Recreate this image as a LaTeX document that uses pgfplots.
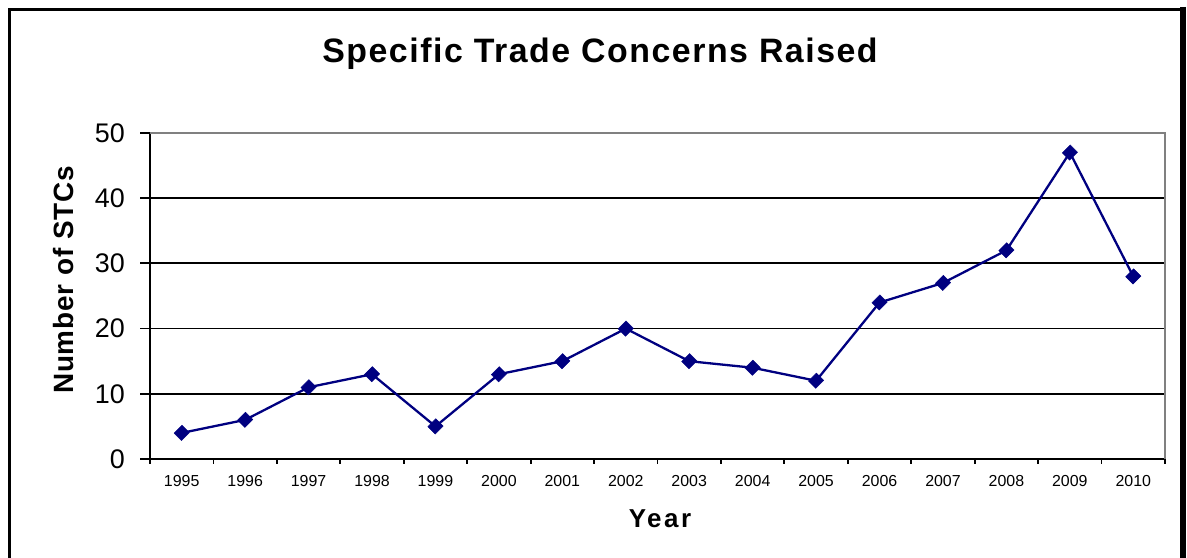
\documentclass[border=0pt]{standalone}
\usepackage{fontspec}
\setmainfont{Liberation Sans}
\usepackage{pgfplots}
\pgfplotsset{compat=1.18}
\definecolor{navyline}{HTML}{000080}
\definecolor{framegray}{HTML}{808080}
\begin{document}
\begin{tikzpicture}[x=1bp,y=1bp]
% outer chart frame
\draw[line width=2.7bp] (9.5,-20) -- (9.5,548.5) -- (1183,548.5);
\draw[line width=6bp] (1183,551) -- (1183,-20);
\begin{axis}[
  at={(150bp,99bp)}, anchor=south west,
  scale only axis, width=1015bp, height=326bp,
  xmin=-0.5, xmax=15.5, ymin=0, ymax=50,
  xtick={0,...,15},
  xticklabels={1995,1996,1997,1998,1999,2000,2001,2002,2003,2004,2005,2006,2007,2008,2009,2010},
  minor xtick={-0.5,0.5,...,15.5},
  ytick={0,10,...,50},
  tick align=outside, tick pos=left,
  major tick length=10bp, minor tick length=5bp,
  major x tick style={draw=none},
  every tick/.style={black, line width=1.8bp},
  minor x tick style={black, line width=1.8bp},
  major y tick style={black, line width=1.8bp},
  axis lines*=left,
  x axis line style={-, black, line width=1.8bp},
  y axis line style={-, black, line width=1.8bp},
  ymajorgrids, grid style={black, line width=1.8bp},
  /pgf/number format/assume math mode=true,
  yticklabel style={font=\fontsize{27}{30}\selectfont, inner sep=0pt, xshift=-15bp},
  xticklabel style={font=\fontsize{16}{19}\selectfont, inner sep=0pt, yshift=-6bp},
  clip=false,
]
\addplot[navyline, line width=2.3bp, mark=square*, mark size=5.6bp,
  mark options={rotate=45, yscale=0.92, solid, fill=navyline, draw=navyline, line width=0.5bp}]
  coordinates {
  (0,4) (1,6) (2,11) (3,13) (4,5) (5,13) (6,15) (7,20)
  (8,15) (9,14) (10,12) (11,24) (12,27) (13,32) (14,47) (15,28)
  };
\draw[framegray, line width=2bp] (rel axis cs:0,1) -- (rel axis cs:1,1) -- (rel axis cs:1,0);
\end{axis}
\node[anchor=base, font=\fontsize{34}{38}\selectfont\bfseries\addfontfeature{LetterSpace=4.5}] at (600,495) {Specific Trade Concerns Raised};
\node[anchor=base, font=\fontsize{26}{30}\selectfont\bfseries\addfontfeature{LetterSpace=10}] at (660,30) {Year};
\node[anchor=base, rotate=90, font=\fontsize{28}{32}\selectfont\bfseries\addfontfeature{LetterSpace=3}] at (73,278) {Number of STCs};
\pgfresetboundingbox
\useasboundingbox (0,0) rectangle (1187,558);
\end{tikzpicture}
\end{document}
